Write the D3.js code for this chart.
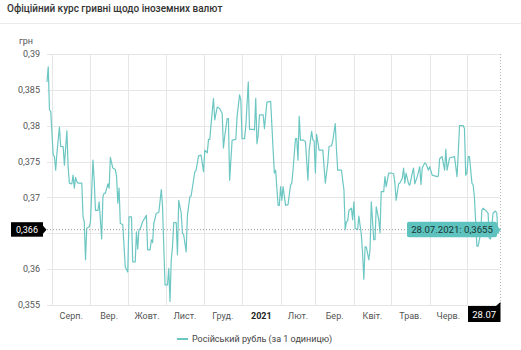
<!DOCTYPE html>
<html><head><meta charset="utf-8">
<script src="https://cdn.jsdelivr.net/npm/d3@7"></script>
<style>
body{margin:0;background:#fff;}
svg{display:block;font-family:Roboto, "Noto Sans", sans-serif;}
</style></head><body>
<svg id="c" width="521" height="350"></svg>
<script>
const title = "Офіційний курс гривні щодо іноземних валют";
const unitLabel = "грн";
const seriesName = "Російський рубль (за 1 одиницю)";
const yTicks = [0.355, 0.36, 0.365, 0.37, 0.375, 0.38, 0.385, 0.39];
const yTickLabels = ["0,355", "0,36", "", "0,37", "0,375", "0,38", "0,385", "0,39"];
const monthLabels = ["Серп.", "Вер.", "Жовт.", "Лист.", "Груд.", "2021", "Лют.", "Бер.", "Квіт.", "Трав.", "Черв."];
const lastDateLabel = "28.07";
const crossValueLabel = "0,366";

const dates = [
"2020-07-28","2020-07-29","2020-07-30","2020-07-31","2020-08-02","2020-08-03","2020-08-04","2020-08-05","2020-08-07","2020-08-08",
"2020-08-10","2020-08-11","2020-08-13","2020-08-14","2020-08-15","2020-08-17","2020-08-18","2020-08-19","2020-08-20","2020-08-21",
"2020-08-22","2020-08-25","2020-08-26","2020-08-27","2020-08-28","2020-08-29","2020-08-31","2020-09-01","2020-09-03","2020-09-04",
"2020-09-05","2020-09-07","2020-09-08","2020-09-10","2020-09-11","2020-09-12","2020-09-13","2020-09-15","2020-09-16","2020-09-17",
"2020-09-19","2020-09-21","2020-09-22","2020-09-23","2020-09-24","2020-09-25","2020-09-27","2020-09-29","2020-10-01","2020-10-02",
"2020-10-04","2020-10-05","2020-10-07","2020-10-08","2020-10-09","2020-10-10","2020-10-11","2020-10-13","2020-10-14","2020-10-16",
"2020-10-17","2020-10-19","2020-10-20","2020-10-21","2020-10-22","2020-10-24","2020-10-26","2020-10-28","2020-10-29","2020-10-30",
"2020-10-31","2020-11-02","2020-11-03","2020-11-04","2020-11-05","2020-11-06","2020-11-07","2020-11-09","2020-11-10","2020-11-11",
"2020-11-13","2020-11-14","2020-11-15","2020-11-17","2020-11-18","2020-11-20","2020-11-21","2020-11-24","2020-11-25","2020-11-27",
"2020-11-29","2020-12-01","2020-12-02","2020-12-04","2020-12-05","2020-12-06","2020-12-08","2020-12-09","2020-12-10","2020-12-12",
"2020-12-14","2020-12-16","2020-12-17","2020-12-18","2020-12-20","2020-12-21","2020-12-22","2020-12-24","2020-12-27","2020-12-28",
"2020-12-30","2020-12-31","2021-01-01","2021-01-03","2021-01-04","2021-01-06","2021-01-07","2021-01-10","2021-01-11","2021-01-12",
"2021-01-13","2021-01-14","2021-01-15","2021-01-18","2021-01-19","2021-01-21","2021-01-24","2021-01-26","2021-01-27","2021-01-28",
"2021-01-30","2021-01-31","2021-02-01","2021-02-02","2021-02-03","2021-02-05","2021-02-07","2021-02-09","2021-02-10","2021-02-11",
"2021-02-13","2021-02-14","2021-02-15","2021-02-16","2021-02-17","2021-02-19","2021-02-21","2021-02-23","2021-02-24","2021-02-26",
"2021-02-27","2021-02-28","2021-03-01","2021-03-02","2021-03-04","2021-03-07","2021-03-09","2021-03-11","2021-03-12","2021-03-14",
"2021-03-15","2021-03-17","2021-03-18","2021-03-19","2021-03-22","2021-03-24","2021-03-25","2021-03-26","2021-03-27","2021-03-28",
"2021-03-30","2021-03-31","2021-04-01","2021-04-02","2021-04-04","2021-04-05","2021-04-07","2021-04-08","2021-04-09","2021-04-10",
"2021-04-11","2021-04-13","2021-04-14","2021-04-15","2021-04-17","2021-04-18","2021-04-19","2021-04-21","2021-04-22","2021-04-23",
"2021-04-25","2021-04-26","2021-04-27","2021-04-29","2021-05-01","2021-05-03","2021-05-04","2021-05-05","2021-05-07","2021-05-08",
"2021-05-10","2021-05-11","2021-05-12","2021-05-13","2021-05-15","2021-05-16","2021-05-18","2021-05-19","2021-05-20","2021-05-22",
"2021-05-24","2021-05-25","2021-05-26","2021-05-28","2021-05-29","2021-05-31","2021-06-01","2021-06-03","2021-06-07","2021-06-08",
"2021-06-09","2021-06-11","2021-06-13","2021-06-14","2021-06-15","2021-06-17","2021-06-21","2021-06-23","2021-06-24","2021-06-25",
"2021-06-28","2021-06-29","2021-06-30","2021-07-01","2021-07-02","2021-07-03","2021-07-05","2021-07-06","2021-07-07","2021-07-09",
"2021-07-10","2021-07-12","2021-07-13","2021-07-14","2021-07-16","2021-07-18","2021-07-19","2021-07-20","2021-07-22","2021-07-24",
"2021-07-25","2021-07-26","2021-07-27","2021-07-28"
];
const values = [
0.3861,0.3882,0.3822,0.3820,0.3759,0.3757,0.3738,0.3762,0.3798,0.3771,
0.3771,0.3745,0.3793,0.3743,0.3720,0.3719,0.3731,0.3713,0.3728,0.3722,
0.3720,0.3720,0.3673,0.3666,0.3613,0.3657,0.3659,0.3666,0.3752,0.3724,
0.3682,0.3682,0.3694,0.3642,0.3701,0.3706,0.3706,0.3719,0.3713,0.3756,
0.3741,0.3739,0.3729,0.3692,0.3713,0.3664,0.3662,0.3603,0.3596,0.3673,
0.3673,0.3610,0.3610,0.3652,0.3628,0.3655,0.3656,0.3666,0.3669,0.3675,
0.3627,0.3627,0.3641,0.3637,0.3664,0.3678,0.3679,0.3711,0.3687,0.3631,
0.3578,0.3578,0.3601,0.3555,0.3613,0.3631,0.3665,0.3665,0.3620,0.3696,
0.3678,0.3650,0.3648,0.3624,0.3675,0.3701,0.3702,0.3736,0.3738,0.3758,
0.3759,0.3736,0.3766,0.3762,0.3781,0.3781,0.3820,0.3838,0.3808,0.3826,
0.3824,0.3817,0.3769,0.3785,0.3810,0.3810,0.3724,0.3780,0.3781,0.3813,
0.3843,0.3836,0.3782,0.3782,0.3799,0.3861,0.3795,0.3795,0.3794,0.3838,
0.3775,0.3787,0.3815,0.3815,0.3796,0.3833,0.3834,0.3766,0.3734,0.3738,
0.3689,0.3689,0.3715,0.3696,0.3715,0.3689,0.3690,0.3717,0.3720,0.3738,
0.3782,0.3782,0.3752,0.3813,0.3780,0.3780,0.3778,0.3724,0.3766,0.3792,
0.3780,0.3779,0.3734,0.3788,0.3766,0.3766,0.3720,0.3748,0.3771,0.3772,
0.3779,0.3803,0.3766,0.3738,0.3738,0.3710,0.3655,0.3666,0.3667,0.3682,
0.3685,0.3669,0.3694,0.3657,0.3655,0.3674,0.3648,0.3622,0.3586,0.3631,
0.3631,0.3613,0.3627,0.3694,0.3641,0.3641,0.3687,0.3669,0.3651,0.3708,
0.3708,0.3729,0.3715,0.3734,0.3734,0.3733,0.3720,0.3696,0.3719,0.3720,
0.3727,0.3741,0.3720,0.3734,0.3719,0.3717,0.3734,0.3741,0.3719,0.3729,
0.3743,0.3718,0.3741,0.3748,0.3747,0.3738,0.3743,0.3731,0.3729,0.3730,
0.3754,0.3757,0.3738,0.3767,0.3738,0.3755,0.3757,0.3729,0.3762,0.3800,
0.3800,0.3796,0.3731,0.3734,0.3757,0.3757,0.3720,0.3717,0.3701,0.3632,
0.3632,0.3650,0.3682,0.3685,0.3682,0.3678,0.3643,0.3642,0.3678,0.3681,
0.3678,0.3650,0.3655,0.3655
];

const svg = d3.select("#c");
const parse = d3.timeParse("%Y-%m-%d");
const data = dates.map((d, i) => ({ date: parse(d), value: values[i] }));
const start = data[0].date, end = data[data.length - 1].date;
const last = data[data.length - 1];

const locale = d3.formatLocale({ decimal: ",", thousands: " ", grouping: [3], currency: ["", ""] });
const fmt4 = locale.format(".4f");
const fmtDate = d3.timeFormat("%d.%m.%Y");

const x = d3.scaleTime().domain([start, end]).range([47, 500.5]);
const y = d3.scaleLinear().domain([0.355, 0.39]).range([305, 54]);

const gridColor = "#e6e6e6", labelColor = "#555";
const lineColor = "#6cc7c3";
const fs = 9;

// title
svg.append("text").attr("x", 7).attr("y", 11.5).attr("font-size", 10).attr("font-weight", 500)
  .attr("fill", "#333").text(title);
svg.append("line").attr("x1", 0).attr("x2", 521).attr("y1", 23.5).attr("y2", 23.5)
  .attr("stroke", "#ebebeb");

// horizontal grid + y labels
const gy = svg.append("g");
yTicks.forEach((t, i) => {
  gy.append("line").attr("x1", 47).attr("x2", 500).attr("y1", Math.round(y(t)) + 0.5).attr("y2", Math.round(y(t)) + 0.5)
    .attr("stroke", gridColor);
  if (yTickLabels[i]) gy.append("text").attr("x", 40).attr("y", y(t) + 3.2).attr("text-anchor", "end")
    .attr("font-size", fs).attr("fill", labelColor).text(yTickLabels[i]);
});
svg.append("text").attr("x", 19).attr("y", 44).attr("font-size", fs).attr("fill", labelColor).text(unitLabel);

// vertical month grid
const months = d3.timeMonth.range(d3.timeMonth.ceil(start), end);
months.forEach(m => {
  svg.append("line").attr("x1", Math.round(x(m)) + 0.5).attr("x2", Math.round(x(m)) + 0.5)
    .attr("y1", 54).attr("y2", 305).attr("stroke", gridColor);
});
// month labels (centered in month bands)
months.slice(0, monthLabels.length).forEach((m, i) => {
  const next = d3.timeMonth.offset(m, 1);
  const cx = (x(m) + x(next)) / 2;
  svg.append("text").attr("x", cx).attr("y", 319).attr("text-anchor", "middle")
    .attr("font-size", fs).attr("font-weight", monthLabels[i] === "2021" ? 700 : 400)
    .attr("fill", monthLabels[i] === "2021" ? "#222" : labelColor).text(monthLabels[i]);
});

// series line
svg.append("path").datum(data)
  .attr("d", d3.line().x(d => x(d.date)).y(d => y(d.value)))
  .attr("fill", "none").attr("stroke", lineColor).attr("stroke-width", 1.2).attr("stroke-linejoin", "round");

// crosshair
const cx0 = x(last.date), cy0 = y(last.value);
svg.append("line").attr("x1", 47).attr("x2", cx0).attr("y1", cy0).attr("y2", cy0)
  .attr("stroke", "#9a9a9a").attr("stroke-dasharray", "1,2");
svg.append("line").attr("x1", cx0).attr("x2", cx0).attr("y1", 54).attr("y2", 305)
  .attr("stroke", "#b5b5b5").attr("stroke-dasharray", "1,2");

// left value badge
svg.append("rect").attr("x", 11).attr("y", cy0 - 7.5).attr("width", 32).attr("height", 14.5).attr("fill", "#000");
svg.append("path").attr("d", `M43,${cy0 - 4}L46.5,${cy0}L43,${cy0 + 4}Z`).attr("fill", "#000");
svg.append("text").attr("x", 27).attr("y", cy0 + 3.2).attr("text-anchor", "middle").attr("font-size", fs)
  .attr("fill", "#fff").text(crossValueLabel);

// tooltip
const tipText = fmtDate(last.date) + ": " + fmt4(last.value);
svg.append("rect").attr("x", 407).attr("y", cy0 - 8).attr("width", 90).attr("height", 15.5).attr("rx", 2)
  .attr("fill", "#5ec3be");
svg.append("path").attr("d", `M497,${cy0 - 4}L500.5,${cy0}L497,${cy0 + 4}Z`).attr("fill", "#5ec3be");
svg.append("text").attr("x", 452).attr("y", cy0 + 3.4).attr("text-anchor", "middle").attr("font-size", 9.6)
  .attr("fill", "#173331").text(tipText);

// bottom date badge
svg.append("rect").attr("x", 468).attr("y", 306).attr("width", 32.5).attr("height", 16).attr("fill", "#000");
svg.append("path").attr("d", "M496,306L500.5,302L500.5,306Z").attr("fill", "#000");
svg.append("text").attr("x", 484.2).attr("y", 317.5).attr("text-anchor", "middle").attr("font-size", 9.5)
  .attr("fill", "#fff").text(lastDateLabel);

// legend
svg.append("line").attr("x1", 177).attr("x2", 188).attr("y1", 339).attr("y2", 339)
  .attr("stroke", lineColor).attr("stroke-width", 2);
svg.append("text").attr("x", 192).attr("y", 342).attr("font-size", fs).attr("fill", "#444").text(seriesName);
</script>
</body></html>
